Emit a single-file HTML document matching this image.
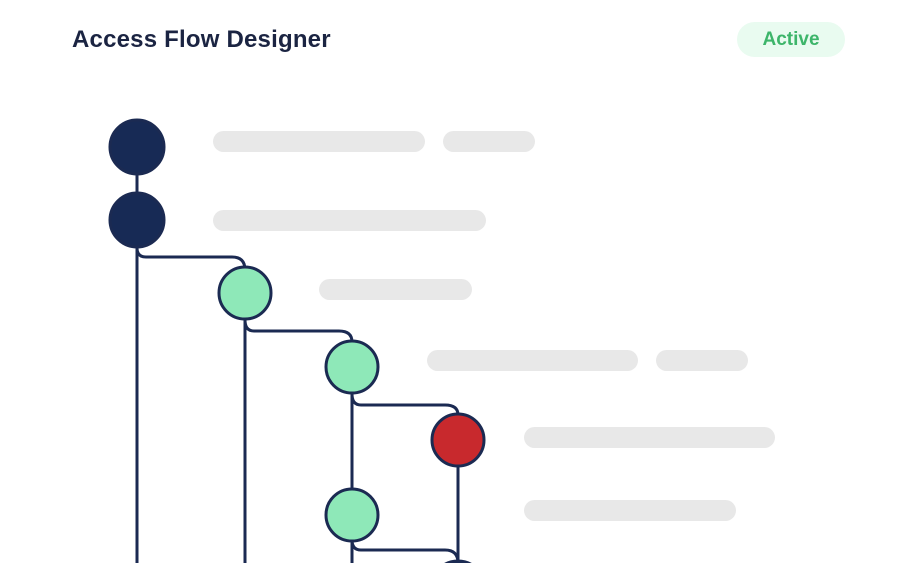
<!DOCTYPE html>
<html><head><style>
html,body{margin:0;padding:0;background:#fff;overflow:hidden;}
body{width:900px;height:563px;position:relative;overflow:hidden;font-family:"Liberation Sans",sans-serif;}
.t{position:absolute;left:72px;top:26px;font-size:24px;font-weight:bold;color:#1b2442;letter-spacing:0.2px;}
.p{position:absolute;left:737px;top:22px;width:108px;height:35px;border-radius:18px;background:#e9fbf0;color:#3db56a;font-weight:bold;font-size:19px;text-align:center;line-height:35px;}
.b{position:absolute;height:21px;border-radius:11px;background:#e8e8e8;}
</style></head><body>
<div class="t">Access Flow Designer</div>
<div class="p">Active</div>
<div class="b" style="left:213px;top:131px;width:212px"></div>
<div class="b" style="left:443px;top:131px;width:92px"></div>
<div class="b" style="left:213px;top:210px;width:273px"></div>
<div class="b" style="left:319px;top:279px;width:153px"></div>
<div class="b" style="left:427px;top:350px;width:211px"></div>
<div class="b" style="left:656px;top:350px;width:92px"></div>
<div class="b" style="left:524px;top:427px;width:251px"></div>
<div class="b" style="left:524px;top:500px;width:212px"></div>
<svg width="900" height="563" style="position:absolute;left:0;top:0;overflow:hidden">
<g fill="none" stroke="#1b2a52" stroke-width="3">
<path d="M137 147V563"/>
<path d="M137 248 Q137 257 146 257 H232 Q245 257 245 270"/>
<path d="M245 293V563"/>
<path d="M245 320 Q245 331 254 331 H339 Q352 331 352 342"/>
<path d="M352 367V563"/>
<path d="M352 394 Q352 405 361 405 H445 Q458 405 458 415"/>
<path d="M458 440V563"/>
<path d="M352 540 Q352 550 361 550 H445 Q458 550 458 563"/>
</g>
<g stroke="#1b2a52" stroke-width="3">
<circle cx="137" cy="147" r="27" fill="#172a55"/>
<circle cx="137" cy="220" r="27" fill="#172a55"/>
<circle cx="245" cy="293" r="26" fill="#8ee8b8"/>
<circle cx="352" cy="367" r="26" fill="#8ee8b8"/>
<circle cx="458" cy="440" r="26" fill="#c8292d"/>
<circle cx="352" cy="515" r="26" fill="#8ee8b8"/>
<circle cx="458" cy="588" r="27" fill="#172a55"/>
</g>
</svg>
</body></html>
